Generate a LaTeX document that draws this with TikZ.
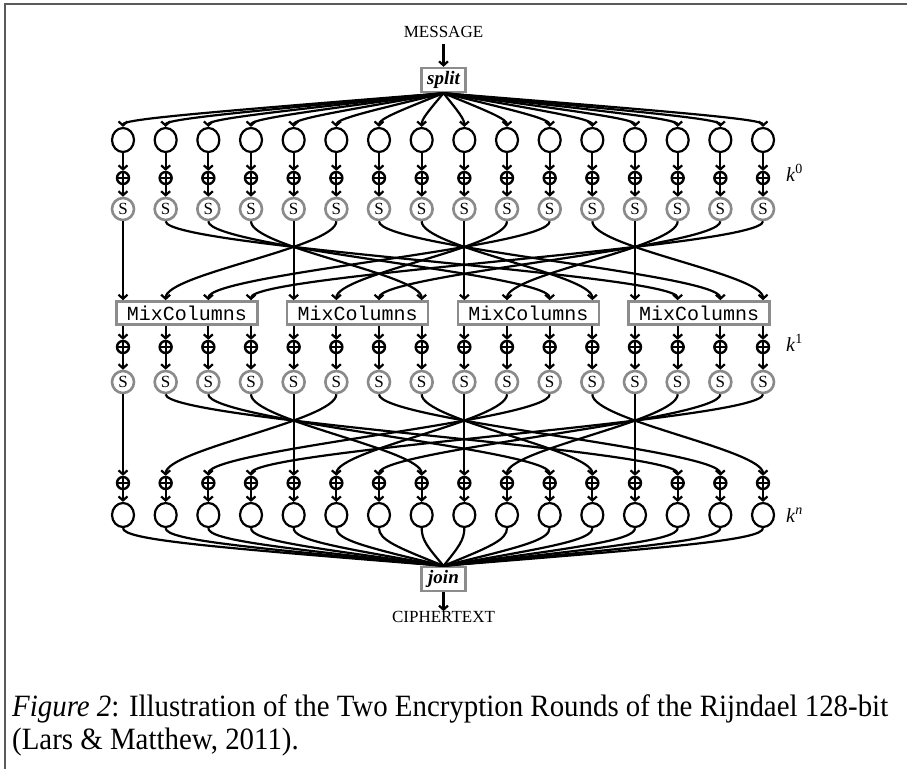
\documentclass[tikz,border=0pt]{standalone}
\usepackage{fontspec}
\setmainfont{Liberation Serif}
\setmonofont{Liberation Mono}
\usetikzlibrary{arrows.meta,calc,shapes.geometric}
\definecolor{sgray}{HTML}{8A8A8A}
\definecolor{bgray}{HTML}{8C8C8C}
\definecolor{framecol}{HTML}{5A5A5A}
\newlength\capw
\newcommand\capfont{\fontsize{31}{34}\selectfont}
\newcommand\capone{\textit{Figure 2}: Illustration of the Two Encryption Rounds of the Rijndael 128-bit}
\begin{document}
% narrowed caption type: the first line fills the 876pt text width
\settowidth\capw{\capfont\capone}
\pgfmathsetmacro\capsx{876/\capw}
\begin{tikzpicture}[x=1pt,y=-1pt,
  wire/.style={line width=2.2pt},
  arr/.style={wire,-{Straight Barb[length=4pt,width=9pt]}},
  round/.style={ellipse,draw,line width=2.2pt,minimum width=22pt,minimum height=24pt,inner sep=0pt},
  sbox/.style={circle,draw=sgray,line width=2.6pt,minimum size=22pt,inner sep=0pt,
    font=\fontsize{17}{17}\selectfont},
  xorn/.style={circle,draw,line width=2.4pt,minimum size=12pt,inner sep=0pt,
    path picture={\draw[line width=1.8pt]
      (path picture bounding box.north) -- (path picture bounding box.south)
      (path picture bounding box.west) -- (path picture bounding box.east);}},
  mcbox/.style={draw=bgray,line width=2.6pt,fill=white,minimum width=141pt,
    minimum height=23pt,inner sep=0pt,font=\ttfamily\fontsize{20}{20}\selectfont},
  opbox/.style={draw=bgray,line width=2.4pt,fill=white,minimum width=44pt,
    minimum height=24pt,inner sep=0pt,font=\bfseries\itshape\fontsize{19}{19}\selectfont},
  io/.style={font=\fontsize{17}{17}\selectfont,inner sep=0pt},
  keylab/.style={anchor=west,inner sep=0pt,font=\fontsize{20}{20}\selectfont},
  captext/.style={anchor=base west,inner sep=0pt,font=\capfont}]

\useasboundingbox (0,0) rectangle (907,769);
\draw[framecol,line width=2pt] (4.5,769) -- (4.5,4) -- (907,4);

% input and split
\node[io] (msg) at (443.5,32) {MESSAGE};
\node[opbox] (split) at (443.5,80) {split};
\draw[arr] (msg.south) ++(0,6) coordinate (msgtail) (msgtail) -- (split.north);

% columns of nodes
\foreach \i in {0,...,15}{
  \pgfmathsetmacro\xx{123+42.667*\i}
  \node[round] (c\i)  at (\xx,140) {};
  \node[xorn]  (xa\i) at (\xx,178) {};
  \node[sbox]  (sa\i) at (\xx,209) {S};
  \node[xorn]  (xb\i) at (\xx,347) {};
  \node[sbox]  (sb\i) at (\xx,382) {S};
  \node[xorn]  (xc\i) at (\xx,483) {};
  \node[round] (d\i)  at (\xx,515) {};
}

% MixColumns boxes
\foreach \c in {0,...,3}{
  \pgfmathtruncatemacro\a{4*\c}
  \pgfmathtruncatemacro\b{4*\c+3}
  \node[mcbox] (mc\c) at ($(xb\a)!0.5!(xb\b)+(0,-34)$) {MixColumns};
}

% join and output
\node[opbox] (join) at (443.5,579) {join};
\node[io] (ct) at (443.5,617) {CIPHERTEXT};
\draw[arr] (join.south) -- (ct.north);

% split fan-out
\foreach \i in {0,...,15}{
  \draw[arr] (split.south) .. controls ($(split.south)!0.72!(c\i.north |- 0,119)$)
    and (c\i.north |- 0,119) .. (c\i.north);
}

% per-column links
\foreach \i in {0,...,15}{
  \draw[arr] (c\i) -- (xa\i);
  \draw[arr] (xa\i) -- (sa\i);
  \draw[arr] (xb\i |- mc0.south) -- (xb\i);
  \draw[arr] (xb\i) -- (sb\i);
  \draw[arr] (xc\i) -- (d\i);
}

% ShiftRows wiring of both rounds
\foreach \j in {0,...,15}{
  \pgfmathtruncatemacro\cp{int(\j/4)}
  \pgfmathtruncatemacro\r{mod(\j,4)}
  \pgfmathtruncatemacro\c{mod(\cp-\r+4,4)}
  \pgfmathtruncatemacro\t{4*\c+\r}
  \draw[arr] (sa\j.south) .. controls +(0,26) and +(0,-26) .. (mc\c.north -| xb\t);
  \draw[arr] (sb\j.south) .. controls +(0,26) and +(0,-26) .. (xc\t.north);
}

% join fan-in
\foreach \i in {0,...,15}{
  \draw[wire] (d\i.south) .. controls (d\i.south |- 0,540)
    and ($(join.north)!0.72!(d\i.south |- 0,540)$) .. (join.north);
}

% round keys
\node[keylab] (k0) at (786,173) {\textit{k}\textsuperscript{0}};
\node[keylab] (k1) at (786,343) {\textit{k}\textsuperscript{1}};
\node[keylab] (kn) at (786,515) {\textit{k}\textsuperscript{\textit{n}}};

% caption
\node[captext] (cap1) at (12,716) {\scalebox{\capsx}[1]{\capone}};
\node[captext] (cap2) at (12,749) {\scalebox{\capsx}[1]{(Lars \& Matthew, 2011).}};
\end{tikzpicture}
\end{document}
